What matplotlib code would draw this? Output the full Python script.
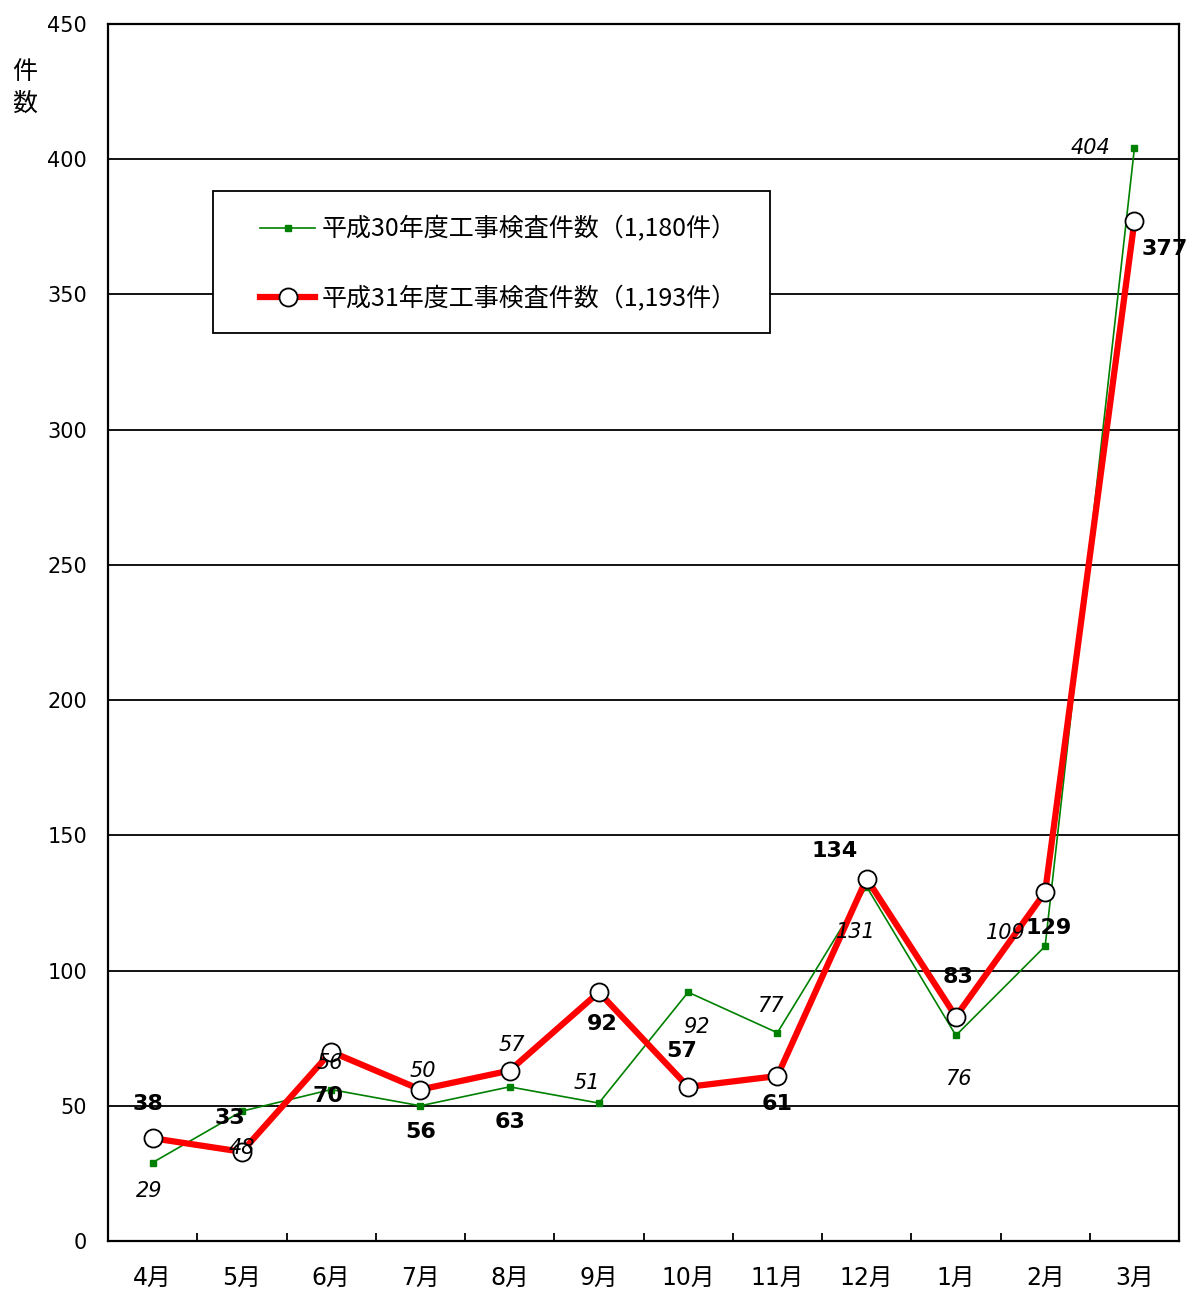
import numpy as np
import matplotlib.pyplot as plt
from matplotlib.patches import Rectangle

plt.rcParams['font.family'] = ['DejaVu Sans', 'Noto Sans CJK JP']

months = ["4月", "5月", "6月", "7月", "8月", "9月", "10月", "11月", "12月", "1月", "2月", "3月"]
h30 = np.array([29, 48, 56, 50, 57, 51, 92, 77, 131, 76, 109, 404])
h31 = np.array([38, 33, 70, 56, 63, 92, 57, 61, 134, 83, 129, 377])

# label offsets in pixels (dx, dy)
h31_off = [(-5, 34), (-12, 34), (-3, -44), (0, -42), (0, -51), (3, -32),
           (-6, 36), (0, -28), (-32, 28), (2, 40), (3, -36), (30, -28)]
h30_off = [(-3, -28), (0, -37), (-1, 27), (2, 35), (2, 42), (-12, 20),
           (8, -35), (-7, 27), (-11, -45), (2, -44), (-39, 13), (-44, 0)]

fig = plt.figure(figsize=(11.87, 12.95), dpi=100)
ax = fig.add_axes([108/1187, (1295-1241)/1295, 1071/1187, 1217/1295])

x = np.arange(len(months))
ax.plot(x, h30, color="#008000", lw=1.2, marker="s", ms=5, mfc="#008000", mec="#008000",
        label="平成30年度工事検査件数（1,180件）", zorder=3)
ax.plot(x, h31, color="#ff0000", lw=4.5, marker="o", ms=13, mfc="white", mec="black", mew=1.3,
        label="平成31年度工事検査件数（1,193件）", zorder=4)

for i in range(len(x)):
    ax.annotate(str(h31[i]), (x[i], h31[i]), xytext=(h31_off[i][0]*0.72, h31_off[i][1]*0.72),
                textcoords="offset points", ha="center", va="center",
                fontsize=16, fontweight="bold", zorder=5, annotation_clip=False)
    ax.annotate(str(h30[i]), (x[i], h30[i]), xytext=(h30_off[i][0]*0.72, h30_off[i][1]*0.72),
                textcoords="offset points", ha="center", va="center",
                fontsize=15, fontstyle="italic", zorder=5)

ax.set_xlim(-0.5, 11.5)
ax.set_ylim(0, 450)
ax.set_yticks(np.arange(0, 451, 50))
ax.tick_params(axis="y", length=0, labelsize=15, pad=15)
ax.yaxis.grid(True, color="black", lw=1.3)
ax.set_axisbelow(True)

ax.set_xticks(x)
ax.set_xticklabels(months, fontsize=17)
ax.tick_params(axis="x", which="major", length=0, pad=18)
ax.set_xticks(np.arange(0.5, 11.5, 1), minor=True)
ax.tick_params(axis="x", which="minor", direction="in", length=6, width=1.3)

for s in ax.spines.values():
    s.set_linewidth(1.6)

fig.text(25/1187, 1 - 88/1295, "件\n数", fontsize=18, ha="center", va="center",
         linespacing=1.3, family="Noto Sans CJK JP")

# legend box
box = Rectangle((213/1187, 1 - 333/1295), 557/1187, 142/1295,
                transform=fig.transFigure, facecolor="white",
                edgecolor="black", lw=1.3, zorder=6, clip_on=False)
ax.add_artist(box)
leg = ax.legend(loc="upper left", bbox_to_anchor=(0.142, 0.842), borderaxespad=0,
                frameon=False, borderpad=0, prop={"family": "Noto Sans CJK JP", "size": 18},
                handlelength=2.2, labelspacing=1.73, handletextpad=0.28)
leg.set_zorder(7)

fig.savefig("out.png", dpi=100)
